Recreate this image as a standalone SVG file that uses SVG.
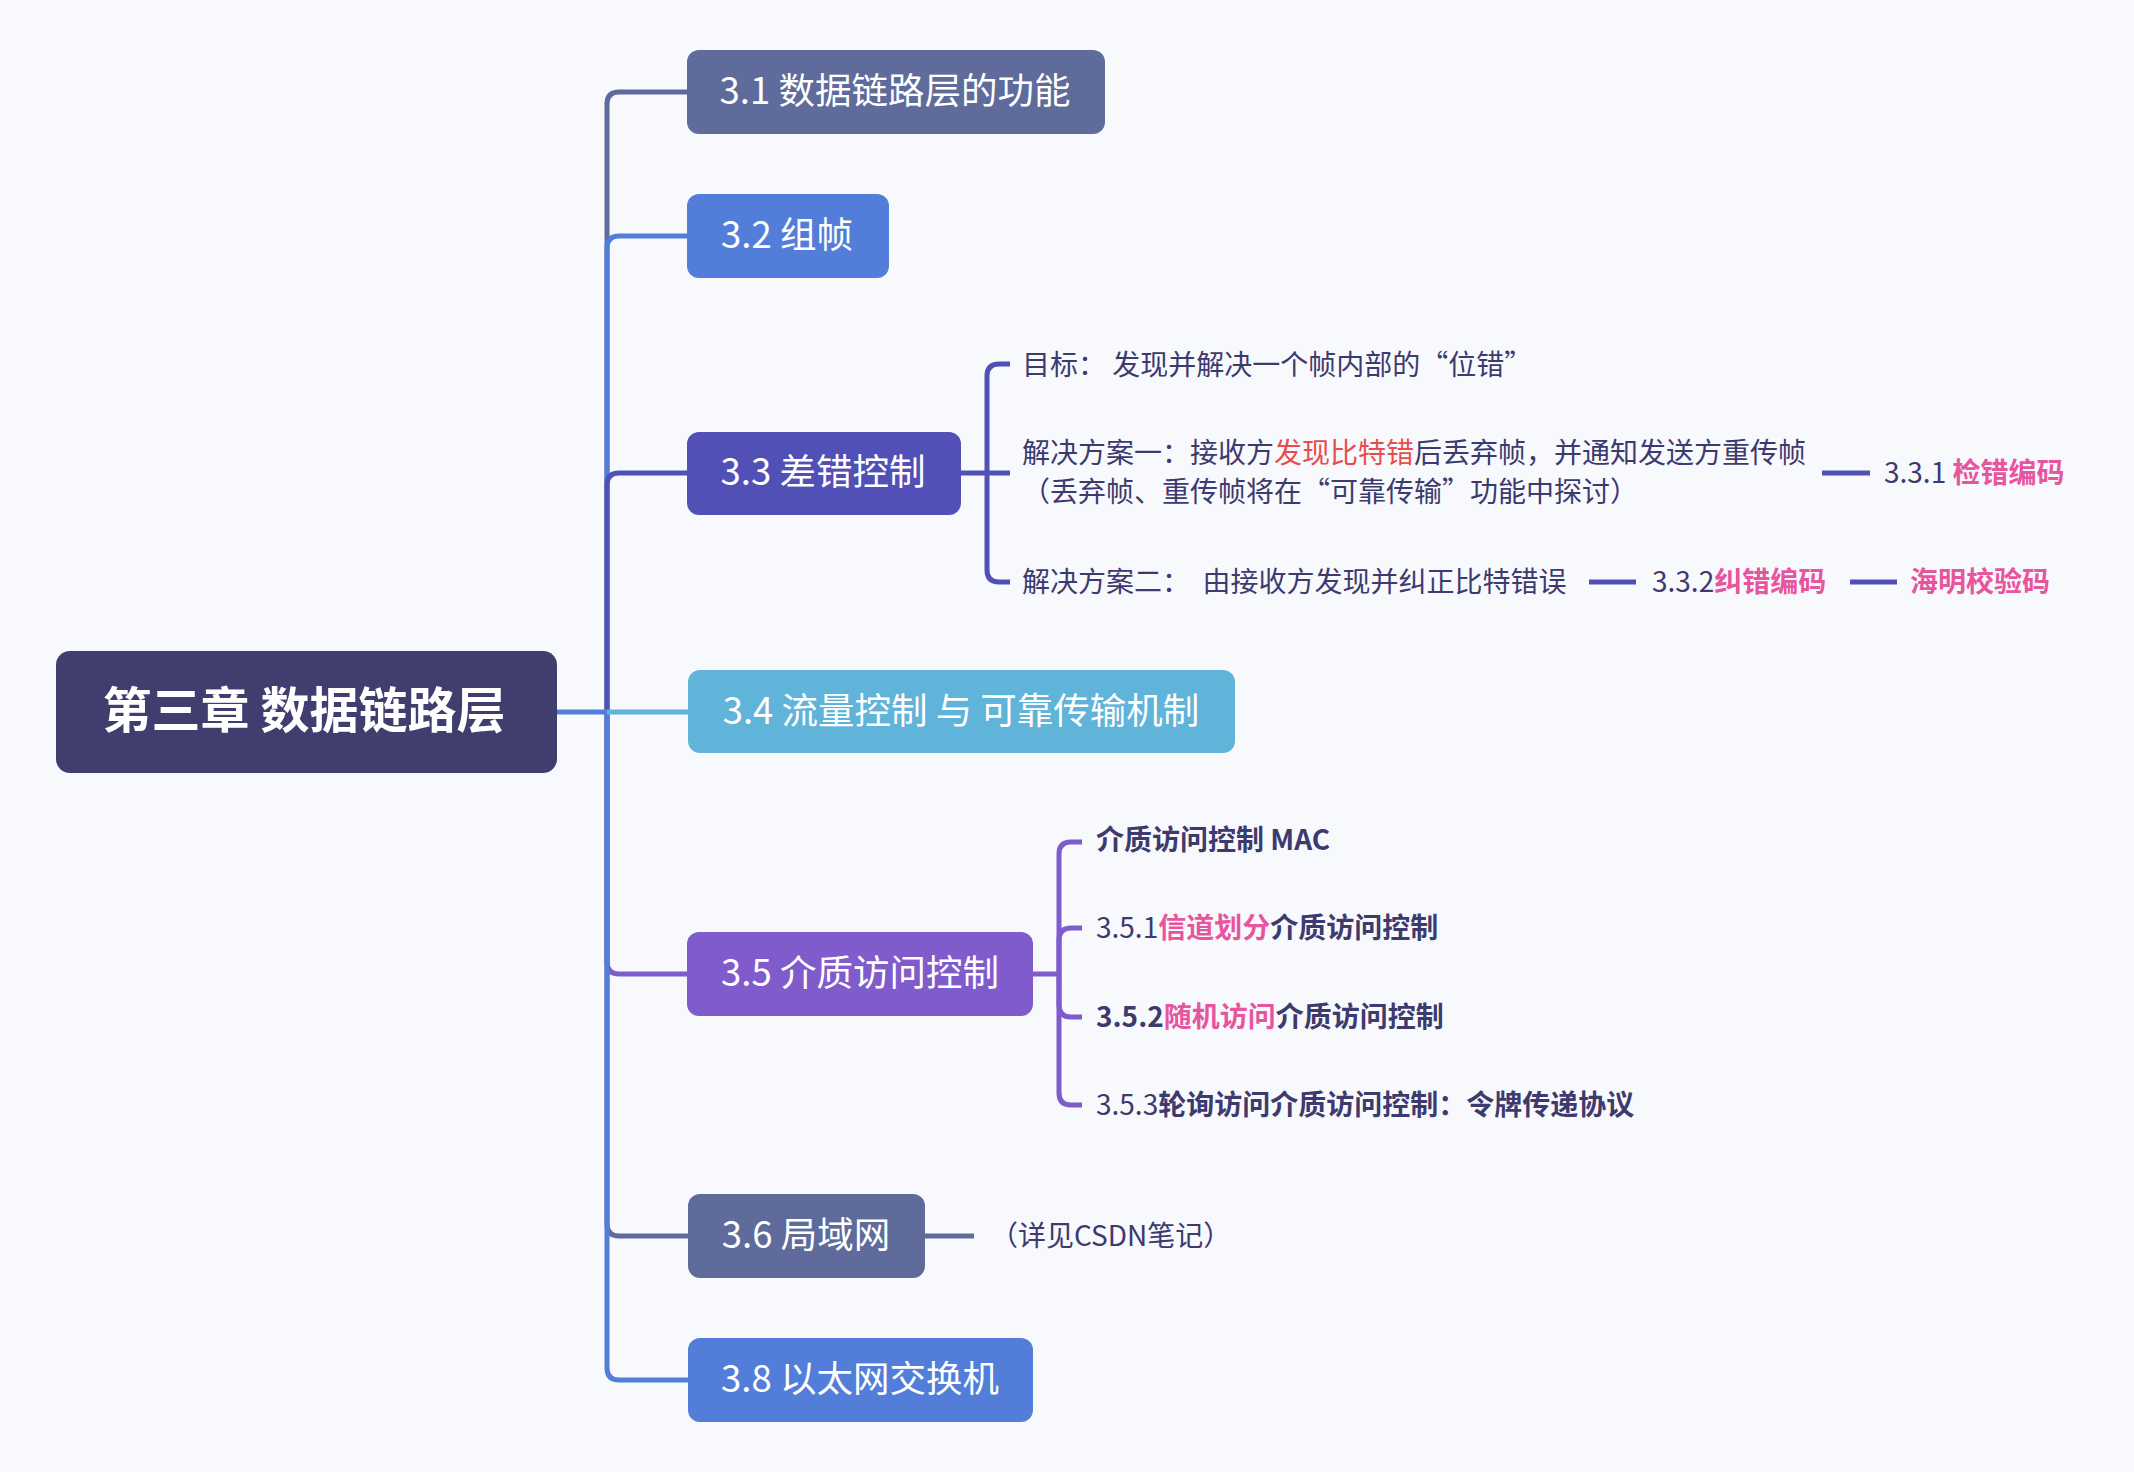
<svg xmlns="http://www.w3.org/2000/svg" width="2134" height="1472" viewBox="0 0 2134 1472">
  <style>
    text { font-family: "Noto Sans CJK SC", "Noto Sans", sans-serif; }
    .node-label { fill: #ffffff; font-size: 36.5px; text-anchor: middle; }
    .root-label { fill: #ffffff; font-size: 49px; font-weight: bold; text-anchor: middle; }
    .sub { fill: #3d3a6e; font-size: 28px; }
    .b { font-weight: bold; }
    .pink { fill: #e8559f; font-weight: bold; }
    .red { fill: #e84c4c; }
    .link { fill: none; stroke-width: 5; stroke-linecap: butt; }
  </style>

  <rect x="0" y="0" width="2134" height="1472" fill="#f7f9fd"/>

  <!-- connectors -->
  <g id="connectors">
    <!-- upper branches: later ones sit on top of the trunk -->
    <path class="link" stroke="#5e6b9b" d="M607,712 V104 Q607,92 619,92 H690"/>
    <path class="link" stroke="#527ed9" d="M607,712 V248 Q607,236 619,236 H690"/>
    <path class="link" stroke="#5150b7" d="M607,712 V485 Q607,473 619,473 H690"/>
    <!-- lower branches -->
    <path class="link" stroke="#7f5bcb" d="M607,712 V962 Q607,974 619,974 H690"/>
    <path class="link" stroke="#5e6b9b" d="M607,712 V1224 Q607,1236 619,1236 H690"/>
    <path class="link" stroke="#527ed9" d="M607,712 V1368 Q607,1380 619,1380 H690"/>
    <!-- root stub and 3.4 -->
    <path class="link" stroke="#527ed9" d="M555,712 H607"/>
    <path class="link" stroke="#60b3d9" d="M607,712 H690"/>

    <!-- 3.3 children -->
    <path class="link" stroke="#5150b7" d="M959,473 H987"/>
    <path class="link" stroke="#5150b7" d="M987,473 V376 Q987,364 999,364 H1010"/>
    <path class="link" stroke="#5150b7" d="M987,473 H1010"/>
    <path class="link" stroke="#5150b7" d="M987,473 V570 Q987,582 999,582 H1010"/>
    <path class="link" stroke="#5150b7" d="M1822,473 H1870"/>
    <path class="link" stroke="#5150b7" d="M1589,582 H1636"/>
    <path class="link" stroke="#5150b7" d="M1850,582 H1897"/>

    <!-- 3.5 children -->
    <path class="link" stroke="#7f5bcb" d="M1031,974 H1059"/>
    <path class="link" stroke="#7f5bcb" d="M1059,974 V854 Q1059,842 1071,842 H1082"/>
    <path class="link" stroke="#7f5bcb" d="M1059,974 V940 Q1059,928 1071,928 H1082"/>
    <path class="link" stroke="#7f5bcb" d="M1059,974 V1005 Q1059,1017 1071,1017 H1082"/>
    <path class="link" stroke="#7f5bcb" d="M1059,974 V1093 Q1059,1105 1071,1105 H1082"/>

    <!-- 3.6 note -->
    <path class="link" stroke="#5e6b9b" d="M923,1236 H974"/>
  </g>

  <!-- root -->
  <g id="root">
    <rect x="56" y="651" width="501" height="122" rx="14" fill="#403e6e"/>
    <text class="root-label" x="304" y="728">第三章 数据链路层</text>
  </g>

  <g id="n31">
    <rect x="687" y="50" width="418" height="84" rx="12" fill="#5e6b9b"/>
    <text class="node-label" x="895" y="104">3.1 数据链路层的功能</text>
  </g>

  <g id="n32">
    <rect x="687" y="194" width="202" height="84" rx="12" fill="#527ed9"/>
    <text class="node-label" x="787" y="248">3.2 组帧</text>
  </g>

  <g id="n33">
    <rect x="687" y="432" width="274" height="83" rx="12" fill="#5150b7"/>
    <text class="node-label" x="823" y="485">3.3 差错控制</text>
  </g>

  <g id="n33-goal">
    <text class="sub" x="1022" y="375" xml:space="preserve">目标： 发现并解决一个帧内部的“位错”</text>
  </g>

  <g id="n33-plan1">
    <text class="sub" x="1022" y="463">解决方案一：接收方<tspan class="red">发现比特错</tspan>后丢弃帧，并通知发送方重传帧</text>
    <text class="sub" x="1022" y="502">（丢弃帧、重传帧将在“可靠传输”功能中探讨）</text>
  </g>

  <g id="n331">
    <text class="sub" x="1884" y="483">3.3.1 <tspan class="pink">检错编码</tspan></text>
  </g>

  <g id="n33-plan2">
    <text class="sub" x="1022" y="592" xml:space="preserve">解决方案二：  由接收方发现并纠正比特错误</text>
  </g>

  <g id="n332">
    <text class="sub" x="1652" y="592">3.3.2<tspan class="pink">纠错编码</tspan></text>
  </g>

  <g id="n332-hamming">
    <text class="sub pink" x="1910" y="592">海明校验码</text>
  </g>

  <g id="n34">
    <rect x="688" y="670" width="547" height="83" rx="12" fill="#60b3d9"/>
    <text class="node-label" x="961" y="724">3.4 流量控制 与 可靠传输机制</text>
  </g>

  <g id="n35">
    <rect x="687" y="932" width="346" height="84" rx="12" fill="#7f5bcb"/>
    <text class="node-label" x="860" y="986">3.5 介质访问控制</text>
  </g>

  <g id="n35-mac">
    <text class="sub b" x="1096" y="850">介质访问控制 MAC</text>
  </g>

  <g id="n351">
    <text class="sub" x="1096" y="938">3.5.1<tspan class="pink">信道划分</tspan><tspan class="b">介质访问控制</tspan></text>
  </g>

  <g id="n352">
    <text class="sub b" x="1096" y="1027">3.5.2<tspan class="pink">随机访问</tspan>介质访问控制</text>
  </g>

  <g id="n353">
    <text class="sub" x="1096" y="1115">3.5.3<tspan class="b">轮询访问介质访问控制：令牌传递协议</tspan></text>
  </g>

  <g id="n36">
    <rect x="688" y="1194" width="237" height="84" rx="12" fill="#5e6b9b"/>
    <text class="node-label" x="806" y="1248">3.6 局域网</text>
  </g>

  <g id="n36-note">
    <text class="sub" x="990" y="1246">（详见CSDN笔记）</text>
  </g>

  <g id="n38">
    <rect x="688" y="1338" width="345" height="84" rx="12" fill="#527ed9"/>
    <text class="node-label" x="860" y="1392">3.8 以太网交换机</text>
  </g>
</svg>
